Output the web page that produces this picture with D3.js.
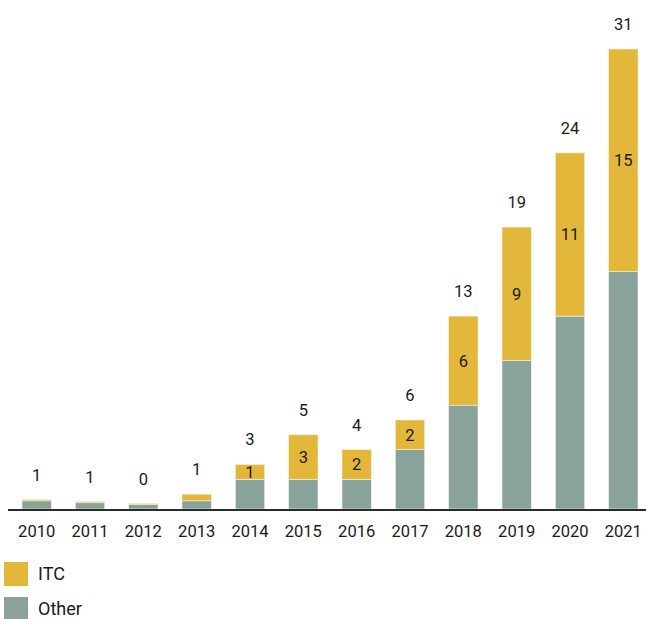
<!DOCTYPE html>
<html>
<head>
<meta charset="utf-8">
<script src="https://cdn.jsdelivr.net/npm/d3@7"></script>
<style>
  html, body { margin: 0; padding: 0; background: #fff; }
  svg { display: block; }
  text { font-family: Roboto, "Noto Sans", sans-serif; fill: #1a1a1a; }
</style>
</head>
<body>
<svg id="chart" width="646" height="619"></svg>
<script>
// Projects per year, split by ITC involvement
const years = ["2010", "2011", "2012", "2013", "2014", "2015", "2016", "2017", "2018", "2019", "2020", "2021"];
const otherValues = [0.55, 0.42, 0.30, 0.55, 2, 2, 2, 4, 7, 10, 13, 16];
const itcValues   = [0.09, 0.08, 0.07, 0.45, 1, 3, 2, 2, 6, 9, 11, 15];
const seriesNames = ["Other", "ITC"];
const seriesColors = { ITC: "#E3B73A", Other: "#8AA39A" };

const W = 646, H = 619;
const baseY = 509, topY = 49;
const numSize = 16.5;

const svg = d3.select("#chart");

const rows = years.map((y, i) => ({ year: y, Other: otherValues[i], ITC: itcValues[i] }));
const stacked = d3.stack().keys(seriesNames)(rows);

const x = d3.scaleBand()
  .domain(years)
  .range([10, 650])
  .paddingInner(0.45)
  .paddingOuter(0.225);

const yMax = d3.max(rows, d => d.Other + d.ITC);
const y = d3.scaleLinear().domain([0, yMax]).range([baseY, topY]);

// Stacked bars
const layers = svg.append("g")
  .selectAll("g")
  .data(stacked)
  .join("g")
  .attr("fill", d => seriesColors[d.key]);

layers.selectAll("rect")
  .data(d => d)
  .join("rect")
  .attr("x", d => x(d.data.year))
  .attr("width", x.bandwidth())
  .attr("y", d => y(d[1]))
  .attr("height", d => y(d[0]) - y(d[1]))
  .attr("stroke", "#f4f1e6")
  .attr("stroke-width", 0.6);

// ITC value inside its segment
const itcLayer = stacked.find(s => s.key === "ITC");
svg.append("g")
  .selectAll("text")
  .data(itcLayer.filter(d => d.data.ITC >= 1))
  .join("text")
  .attr("x", d => x(d.data.year) + x.bandwidth() / 2)
  .attr("y", d => (y(d[0]) + y(d[1])) / 2)
  .attr("dy", "0.36em")
  .attr("text-anchor", "middle")
  .attr("font-size", numSize)
  .text(d => Math.round(d.data.ITC));

// Totals above each bar
svg.append("g")
  .selectAll("text")
  .data(rows)
  .join("text")
  .attr("x", d => x(d.year) + x.bandwidth() / 2)
  .attr("y", d => y(d.Other + d.ITC) - 19)
  .attr("text-anchor", "middle")
  .attr("font-size", numSize)
  .text(d => Math.round(d.Other + d.ITC));

// Baseline and year labels
svg.append("line")
  .attr("x1", 8).attr("x2", W)
  .attr("y1", baseY + 1).attr("y2", baseY + 1)
  .attr("stroke", "#2b2b2b")
  .attr("stroke-width", 2);

const xAxis = svg.append("g")
  .attr("transform", `translate(0,${baseY})`)
  .call(d3.axisBottom(x).tickSize(0).tickPadding(16));
xAxis.select(".domain").remove();
xAxis.attr("font-family", null);
xAxis.selectAll("text")
  .attr("font-size", numSize)
  .attr("fill", "#1a1a1a");

// Legend
const legendItems = ["ITC", "Other"];
const legend = svg.append("g")
  .selectAll("g")
  .data(legendItems)
  .join("g")
  .attr("transform", (d, i) => `translate(4,${562 + i * 35})`);
legend.append("rect")
  .attr("width", 24).attr("height", 24)
  .attr("fill", d => seriesColors[d]);
legend.append("text")
  .attr("x", 34).attr("y", 12)
  .attr("dy", "0.36em")
  .attr("font-size", 18)
  .text(d => d);
</script>
</body>
</html>
